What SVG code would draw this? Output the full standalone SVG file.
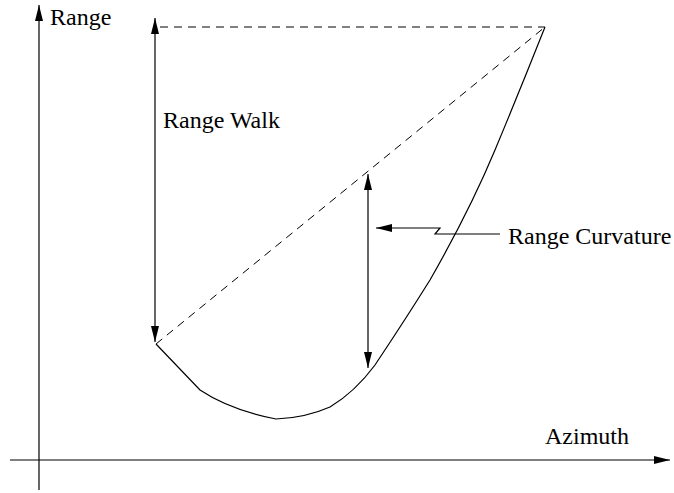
<svg xmlns="http://www.w3.org/2000/svg" width="674" height="493" viewBox="0 0 674 493">
<defs>
<style>
.ln{stroke:#000;stroke-width:1.2;fill:none}
.dash{stroke:#000;stroke-width:1;fill:none;stroke-dasharray:8,6}
.ah{fill:#000;stroke:none}
text{font-family:"Liberation Serif","Times New Roman",serif;font-size:24px;fill:#000}
</style>
<marker id="arr" viewBox="0 0 16 8" refX="16" refY="4" markerWidth="16" markerHeight="8" markerUnits="userSpaceOnUse" orient="auto-start-reverse">
<path d="M0,0 L16,4 L0,8 Z" class="ah"/>
</marker>
</defs>
<rect width="674" height="493" fill="#fff"/>
<g id="axes">
<line class="ln" x1="39" y1="490" x2="39" y2="5" marker-end="url(#arr)"/>
<line class="ln" x1="10" y1="460" x2="670" y2="460" marker-end="url(#arr)"/>
<text x="50" y="25">Range</text>
<text x="545" y="444">Azimuth</text>
</g>
<g id="dashed">
<line class="dash" x1="160" y1="27" x2="545" y2="27"/>
<line class="dash" x1="156" y1="344" x2="545" y2="27"/>
</g>
<g id="curve">
<path class="ln" d="M156,344 L200,390 Q230,410 276,419 Q305,418 330,407 Q355,392 375,365 Q405,320 430,280 Q470,210 495,150 Q520,90 545,27"/>
</g>
<g id="range-walk">
<line class="ln" x1="155" y1="342" x2="155" y2="18" marker-start="url(#arr)" marker-end="url(#arr)"/>
<text x="163" y="128">Range Walk</text>
</g>
<g id="range-curvature">
<line class="ln" x1="368" y1="368" x2="368" y2="174" marker-start="url(#arr)" marker-end="url(#arr)"/>
<path class="ln" d="M500,234 L435,234 L440,228 L376,228" marker-end="url(#arr)"/>
<text x="508" y="244">Range Curvature</text>
</g>
</svg>
